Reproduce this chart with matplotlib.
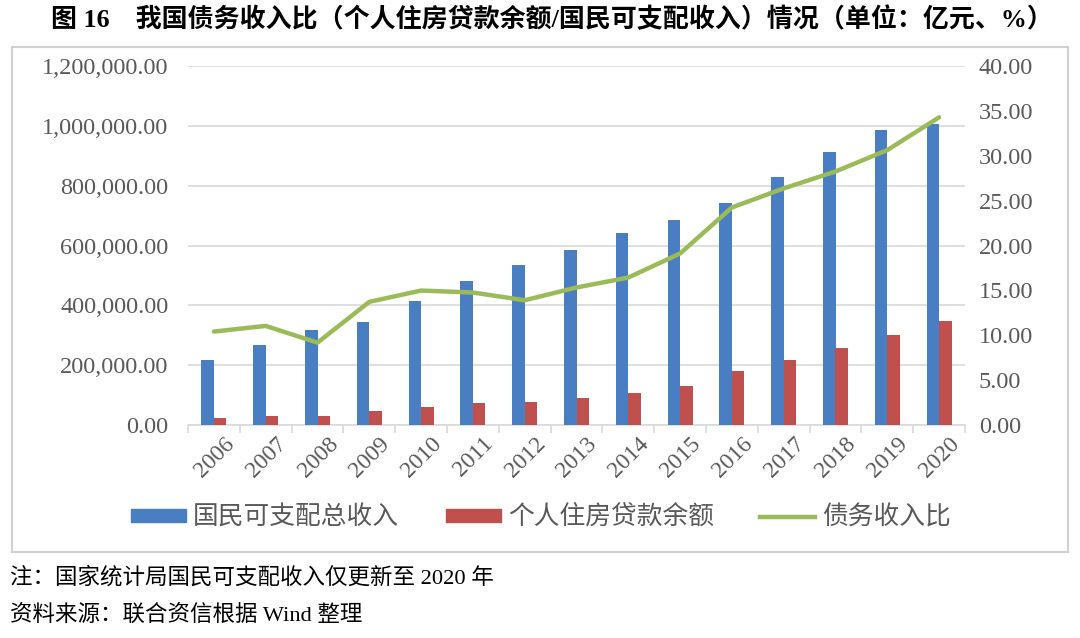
import matplotlib
matplotlib.use("Agg")
import matplotlib.pyplot as plt
import matplotlib.transforms as mtransforms
from matplotlib.lines import Line2D
from matplotlib.patches import Rectangle
from matplotlib.ticker import FuncFormatter, MultipleLocator
import numpy as np

years = ["2006", "2007", "2008", "2009", "2010", "2011", "2012", "2013",
         "2014", "2015", "2016", "2017", "2018", "2019", "2020"]
income = [216000, 268700, 318800, 345500, 413600, 481600, 535000, 585300,
          642000, 684500, 741400, 828400, 912000, 987700, 1007700]
loans = [22300, 30100, 30000, 45800, 60200, 72500, 75900, 91300,
         106000, 129400, 179600, 216400, 258500, 300000, 346800]
ratio = [10.41, 11.04, 9.18, 13.72, 14.98, 14.76, 13.90, 15.32,
         16.43, 19.11, 24.24, 26.36, 28.25, 30.63, 34.28]

title = "图 16　我国债务收入比（个人住房贷款余额/国民可支配收入）情况（单位：亿元、%）"
legend_labels = ["国民可支配总收入", "个人住房贷款余额", "债务收入比"]
note1 = "注：国家统计局国民可支配收入仅更新至 2020 年"
note2 = "资料来源：联合资信根据 Wind 整理"

BLUE = "#4A7EC2"
RED = "#C0504D"
GREEN = "#9BBB59"
GRAY = "#595959"
GRID = "#D9D9D9"

CJK = ["Noto Sans CJK SC", "DejaVu Sans"]
SERIF = ["Liberation Serif", "DejaVu Serif"]
MIXED = ["Liberation Serif", "Noto Sans CJK SC", "DejaVu Sans"]

W, H = 1080, 638
fig = plt.figure(figsize=(W / 100, H / 100), dpi=100)
fig.patch.set_facecolor("white")

def px(x0, y0, x1, y1):
    return [x0 / W, 1 - y1 / H, (x1 - x0) / W, (y1 - y0) / H]

# frame around chart
frame = Rectangle((12 / W, 1 - 552 / H), (1068 - 12) / W, (552 - 47) / H,
                  transform=fig.transFigure, fill=False, edgecolor="#D0D0D0",
                  linewidth=1.5)
fig.add_artist(frame)

ax = fig.add_axes(px(188, 66, 965, 425))
n = len(years)
x = np.arange(n)
bw = 0.24
ax.bar(x - bw / 2, income, width=bw, color=BLUE, zorder=3)
ax.bar(x + bw / 2, loans, width=bw, color=RED, zorder=3)
ax.set_xlim(-0.5, n - 0.5)
ax.set_ylim(0, 1200000)
ax.yaxis.set_major_locator(MultipleLocator(200000))
ax.yaxis.set_major_formatter(FuncFormatter(lambda v, p: f"{v:,.2f}"))
ax.grid(axis="y", color=GRID, linewidth=1.2, zorder=0)
for s in ["top", "right", "left"]:
    ax.spines[s].set_visible(False)
ax.spines["bottom"].set_color(GRID)
ax.spines["bottom"].set_linewidth(1.2)
ax.tick_params(axis="y", length=0, pad=14, labelcolor=GRAY, labelsize=17.5)
ax.set_xticks(x)
ax.set_xticklabels(years, rotation=45, ha="right", rotation_mode="anchor",
                   fontsize=17, color=GRAY, family=SERIF)
ax.tick_params(axis="x", length=0, pad=6)
offset = mtransforms.ScaledTranslation(10 / 100, 0, fig.dpi_scale_trans)
for lab in ax.get_xticklabels():
    lab.set_transform(lab.get_transform() + offset)
ax.set_xticks(np.arange(-0.5, n, 1.0), minor=True)
ax.tick_params(axis="x", which="minor", length=6, color=GRID, width=1.2)
for lab in ax.get_yticklabels():
    lab.set_family(SERIF)

ax2 = ax.twinx()
ax2.plot(x, ratio, color=GREEN, linewidth=3.2, zorder=4, solid_capstyle="round")
ax2.set_ylim(0, 40)
ax2.yaxis.set_major_locator(MultipleLocator(5))
ax2.yaxis.set_major_formatter(FuncFormatter(lambda v, p: f"{v:.2f}"))
for s in ["top", "right", "left", "bottom"]:
    ax2.spines[s].set_visible(False)
ax2.tick_params(axis="y", length=0, pad=10, labelcolor=GRAY, labelsize=17.5)
for lab in ax2.get_yticklabels():
    lab.set_family(SERIF)

# title
fig.text(552 / W, 1 - 19 / H, title, ha="center", va="center", fontsize=18.7,
         fontweight="bold", family=MIXED, color="black")

# legend
handles = [Rectangle((0, 0), 1, 1, color=BLUE),
           Rectangle((0, 0), 1, 1, color=RED),
           Line2D([0], [0], color=GREEN, linewidth=3.2)]
fig.legend(handles, legend_labels, loc="center", bbox_to_anchor=(541 / W, 1 - 518 / H),
           ncol=3, frameon=False, prop={"family": CJK, "size": 18.5},
           labelcolor=GRAY, handlelength=2.14, handleheight=0.4, handletextpad=0.28,
           columnspacing=1.8)

fig.text(10 / W, 1 - 578 / H, note1, ha="left", va="center", fontsize=16.2,
         family=MIXED, color="black")
fig.text(10 / W, 1 - 615 / H, note2, ha="left", va="center", fontsize=16.2,
         family=MIXED, color="black")

fig.savefig("out.png", dpi=100, facecolor="white")
